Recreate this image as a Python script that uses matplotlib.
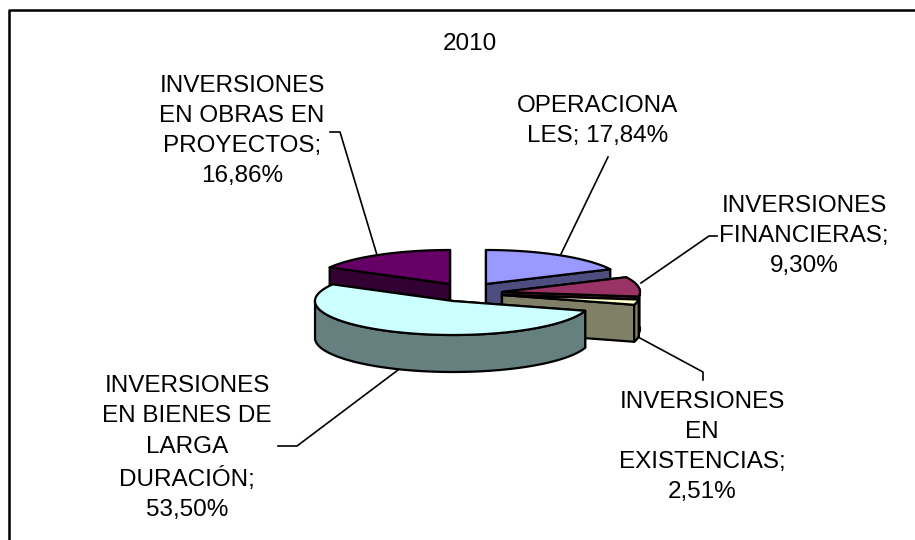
import numpy as np
import matplotlib
matplotlib.use('Agg')
import matplotlib.pyplot as plt
from matplotlib.patches import Polygon

plt.rcParams['font.family'] = ['Liberation Sans', 'DejaVu Sans']

title = '2010'
labels = ['OPERACIONA\nLES; 17,84%',
          'INVERSIONES\nFINANCIERAS;\n9,30%',
          'INVERSIONES\nEN\nEXISTENCIAS;\n2,51%',
          'INVERSIONES\nEN BIENES DE\nLARGA\nDURACIÓN;\n53,50%',
          'INVERSIONES\nEN OBRAS EN\nPROYECTOS;\n16,86%']
values = [17.84, 9.30, 2.51, 53.50, 16.86]

top_colors = ['#9999FF', '#993366', '#FFFFCC', '#CCFFFF', '#660066']
side_colors = ['#4D4D80', '#4D1A33', '#808066', '#668080', '#330033']

# pie geometry in pixels
apexes = [(486, 284), (502, 292), (502, 295), (453, 301), (450, 284)]
rx, ry, depth = 138, 34, 37
label_pos = [(598, 121), (804, 236), (702, 447), (187, 448), (242, 131)]
leaders = [[(561, 254), (608, 157)],
           [(641, 283), (709, 236), (717, 236)],
           [(638, 337), (703, 372), (703, 380)],
           [(398, 370), (297, 446), (278, 446)],
           [(377, 255), (340, 132), (330, 132)]]


def rim(apex, a0, a1):
    t = np.radians(np.linspace(a0, a1, max(int(a1 - a0), 2)))
    return np.column_stack([apex[0] + rx * np.sin(t), apex[1] - ry * np.cos(t)])


def draw_slice(ax, apex, a0, a1, top, side):
    pts = rim(apex, a0, a1)
    apex = np.array(apex)
    down = np.array([0, depth])
    kw = dict(edgecolor='black', linewidth=1.6, joinstyle='round')
    # cut faces
    for end in (pts[0], pts[-1]):
        ax.add_patch(Polygon([apex, end, end + down, apex + down], facecolor=side, **kw))
    # outer wall, only the part facing the viewer
    t = np.radians(np.linspace(a0, a1, len(pts)))
    front = pts[(np.cos(t) < 0.02) | (np.sin(t) > 0.995)]
    if len(front) > 1:
        ax.add_patch(Polygon(np.vstack([front, front[::-1] + down]), facecolor=side, **kw))
    ax.add_patch(Polygon(np.vstack([apex, pts]), facecolor=top, **kw))


fig = plt.figure(figsize=(9.15, 5.40), dpi=100)
ax = fig.add_axes([0, 0, 1, 1])
ax.set_xlim(0, 915)
ax.set_ylim(540, 0)
ax.axis('off')

# chart frame, runs off the picture on the right and at the bottom
ax.plot([8.5, 8.5, 915], [540, 9.5, 9.5], color='black', linewidth=1.8)

angles = np.cumsum([0] + values) / sum(values) * 360

for i in [4, 0, 1, 2, 3]:
    draw_slice(ax, apexes[i], angles[i], angles[i + 1], top_colors[i], side_colors[i])

for pts in leaders:
    xs, ys = zip(*pts)
    ax.plot(xs, ys, color='black', linewidth=1.2)

for lab, pos in zip(labels, label_pos):
    ax.text(pos[0], pos[1], lab, ha='center', va='center', fontsize=17.5, linespacing=1.49, color='black')

ax.text(470, 44, title, ha='center', va='center', fontsize=17.5, color='black')

fig.savefig('out.png', dpi=100)
